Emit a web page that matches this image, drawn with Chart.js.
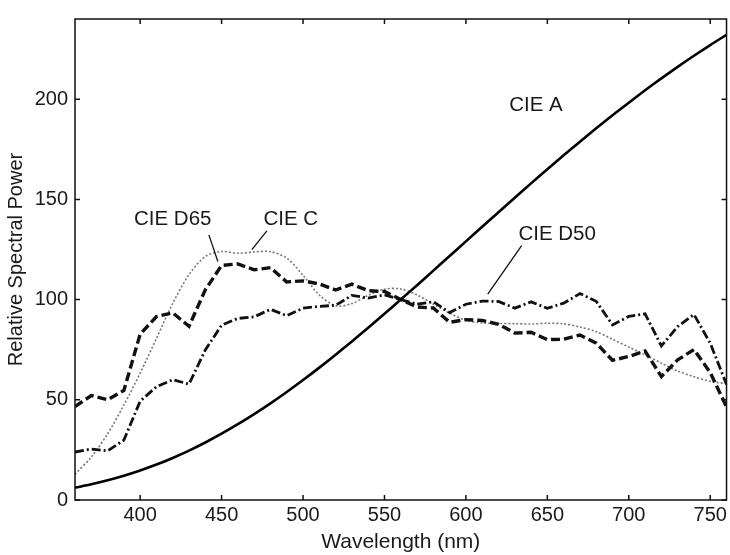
<!DOCTYPE html>
<html>
<head>
<meta charset="utf-8">
<script src="https://cdn.jsdelivr.net/npm/chart.js@4"></script>
<style>
  html, body { margin: 0; padding: 0; background: #fff; }
  #wrap { width: 730px; height: 555px; }
</style>
</head>
<body>
<div id="wrap"><canvas id="spectra"></canvas></div>
<script>
// wavelengths (nm), 10 nm steps
const wavelengths = [360, 370, 380, 390, 400, 410, 420, 430, 440, 450, 460, 470, 480, 490, 500,
    510, 520, 530, 540, 550, 560, 570, 580, 590, 600, 610, 620, 630, 640, 650, 660, 670, 680,
    690, 700, 710, 720, 730, 740, 750, 760];

const cieA = [6.14, 7.82, 9.80, 12.09, 14.71, 17.68, 20.99, 24.67, 28.70, 33.09, 37.81, 42.87,
    48.24, 53.91, 59.86, 66.06, 72.50, 79.13, 85.95, 92.91, 100.0, 107.18, 114.44, 121.73,
    129.04, 136.35, 143.62, 150.84, 157.98, 165.03, 171.96, 178.77, 185.43, 191.93, 198.26,
    204.41, 210.37, 216.12, 221.67, 227.00, 232.12];

const cieD65 = [46.64, 52.09, 49.98, 54.65, 82.75, 91.49, 93.43, 86.68, 104.86, 117.01, 117.81,
    114.86, 115.92, 108.81, 109.35, 107.80, 104.79, 107.69, 104.41, 104.05, 100.0, 96.33,
    95.79, 88.69, 90.01, 89.60, 87.70, 83.29, 83.70, 80.03, 80.21, 82.28, 78.28, 69.72,
    71.61, 74.35, 61.60, 69.89, 75.09, 63.59, 46.42];

const cieD50 = [23.94, 25.45, 24.49, 29.87, 49.31, 56.51, 60.03, 57.82, 74.82, 87.25, 90.61,
    91.37, 95.11, 91.96, 95.72, 96.61, 97.13, 102.10, 100.75, 102.32, 100.0, 97.74, 98.92,
    93.50, 97.69, 99.27, 99.04, 95.72, 98.86, 95.67, 98.19, 103.00, 99.13, 87.38, 91.60,
    92.89, 76.85, 86.51, 92.58, 78.23, 57.69];

const cieC = [12.90, 21.40, 33.00, 47.40, 63.30, 80.60, 98.10, 112.40, 121.50, 124.00, 123.10,
    123.80, 123.90, 120.70, 112.10, 102.30, 96.90, 98.00, 102.10, 105.20, 105.30, 102.30,
    97.80, 93.20, 89.70, 88.40, 88.10, 88.00, 87.80, 88.20, 87.90, 86.30, 84.00, 80.20,
    76.30, 72.40, 68.30, 64.40, 61.50, 59.20, 58.10];

const xTicks = [400, 450, 500, 550, 600, 650, 700, 750];
const yTicks = [0, 50, 100, 150, 200];

// annotation text and leader lines, in data units
const labelNames = ["CIE A", "CIE D65", "CIE C", "CIE D50"];
const labelX = [643, 420, 492.5, 656];
const labelY = [197, 140, 140, 132.6];
const leaderFrom = [null, [442.2, 132.3], [477.8, 134.3], [634.2, 126.9]];
const leaderTo = [null, [447.7, 119.0], [468.6, 124.9], [613.4, 102.7]];

const FONT = "'Liberation Sans', Arial, sans-serif";

function pts(ys) {
    return wavelengths.map((w, i) => ({ x: w, y: ys[i] }));
}

const frameAndNotes = {
    id: "frameAndNotes",
    afterDatasetsDraw(chart) {
        const ctx = chart.ctx;
        const xs = chart.scales.x;
        const ys = chart.scales.y;
        const a = chart.chartArea;
        ctx.save();
        ctx.strokeStyle = "#111";
        ctx.lineWidth = 1.5;
        ctx.strokeRect(a.left, a.top, a.right - a.left, a.bottom - a.top);

        // inward ticks on all four sides
        ctx.beginPath();
        xTicks.forEach((v) => {
            const px = xs.getPixelForValue(v);
            ctx.moveTo(px, a.bottom);
            ctx.lineTo(px, a.bottom - 5);
            ctx.moveTo(px, a.top);
            ctx.lineTo(px, a.top + 5);
        });
        yTicks.forEach((v) => {
            const py = ys.getPixelForValue(v);
            ctx.moveTo(a.left, py);
            ctx.lineTo(a.left + 5, py);
            ctx.moveTo(a.right, py);
            ctx.lineTo(a.right - 5, py);
        });
        ctx.stroke();

        // series labels
        ctx.fillStyle = "#1a1a1a";
        ctx.font = "20.5px " + FONT;
        ctx.textAlign = "center";
        ctx.textBaseline = "middle";
        labelNames.forEach((name, i) => {
            ctx.fillText(name, xs.getPixelForValue(labelX[i]), ys.getPixelForValue(labelY[i]));
            if (leaderFrom[i]) {
                ctx.lineWidth = 1.3;
                ctx.beginPath();
                ctx.moveTo(xs.getPixelForValue(leaderFrom[i][0]), ys.getPixelForValue(leaderFrom[i][1]));
                ctx.lineTo(xs.getPixelForValue(leaderTo[i][0]), ys.getPixelForValue(leaderTo[i][1]));
                ctx.stroke();
            }
        });
        ctx.restore();
    },
};

const ctx = document.getElementById("spectra").getContext("2d");

new Chart(ctx, {
    type: "line",
    data: {
        datasets: [
            {
                label: "CIE A",
                data: pts(cieA),
                borderColor: "#000",
                borderWidth: 2.6,
                tension: 0.3,
            },
            {
                label: "CIE D65",
                data: pts(cieD65),
                borderColor: "#111",
                borderWidth: 3.4,
                borderDash: [9, 4],
                tension: 0,
            },
            {
                label: "CIE D50",
                data: pts(cieD50),
                borderColor: "#111",
                borderWidth: 2.8,
                borderDash: [9, 3, 2, 3],
                tension: 0,
            },
            {
                label: "CIE C",
                data: pts(cieC),
                borderColor: "#777",
                borderWidth: 1.6,
                borderDash: [2, 2],
                tension: 0.3,
            },
        ],
    },
    options: {
        responsive: true,
        maintainAspectRatio: false,
        animation: false,
        layout: { padding: { left: 0, top: 14, right: 3, bottom: 0 } },
        elements: { point: { radius: 0 } },
        plugins: {
            legend: { display: false },
            tooltip: { enabled: false },
        },
        scales: {
            x: {
                type: "linear",
                min: 360,
                max: 760,
                grid: { display: false, drawTicks: false },
                border: { display: false },
                afterBuildTicks: (scale) => {
                    scale.ticks = xTicks.map((v) => ({ value: v }));
                },
                afterFit: (scale) => {
                    scale.height = 55;
                },
                ticks: {
                    color: "#1a1a1a",
                    padding: 3,
                    maxRotation: 0,
                    font: { size: 20, family: FONT },
                },
                title: {
                    display: true,
                    text: "Wavelength (nm)",
                    color: "#1a1a1a",
                    padding: { top: 0, bottom: 0 },
                    font: { size: 21, family: FONT },
                },
            },
            y: {
                min: 0,
                max: 240,
                grid: { display: false, drawTicks: false },
                border: { display: false },
                afterBuildTicks: (scale) => {
                    scale.ticks = yTicks.map((v) => ({ value: v }));
                },
                afterFit: (scale) => {
                    scale.width = 75;
                },
                ticks: {
                    color: "#1a1a1a",
                    padding: 7,
                    font: { size: 20, family: FONT },
                },
                title: {
                    display: true,
                    text: "Relative Spectral Power",
                    color: "#1a1a1a",
                    padding: { top: 4, bottom: 0 },
                    font: { size: 20, family: FONT },
                },
            },
        },
    },
    plugins: [frameAndNotes],
});
</script>
</body>
</html>
